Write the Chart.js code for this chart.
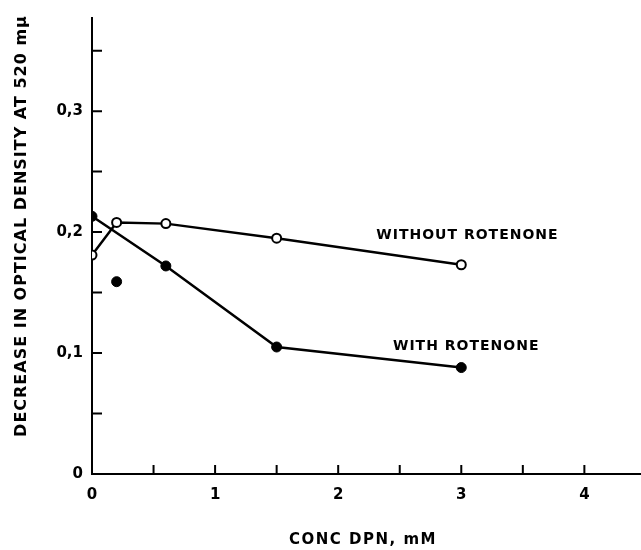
<!DOCTYPE html>
<html>
<head>
  <title>Decrease in optical density vs DPN concentration</title>
  <script src="https://cdn.jsdelivr.net/npm/chart.js"></script>
  <style>
    body {
      margin: 0;
      background: #ffffff;
    }
    .chart-box {
      position: relative;
      width: 641px;
      height: 550px;
    }
  </style>
</head>
<body>
  <div class="chart-box">
    <canvas id="dpnChart"></canvas>
  </div>

  <script>
    // values
    const withoutX = [0, 0.2, 0.6, 1.5, 3.0];
    const withoutY = [0.181, 0.208, 0.207, 0.195, 0.173];
    const withX = [0, 0.6, 1.5, 3.0];
    const withY = [0.213, 0.172, 0.105, 0.088];
    const strayX = [0.2];
    const strayY = [0.159];

    const curveLabels = ['WITHOUT ROTENONE', 'WITH ROTENONE'];
    const curveLabelX = [3.05, 3.04];
    const curveLabelY = [0.1975, 0.1057];

    const xTitle = 'CONC DPN, mM';
    const yTitle = 'DECREASE IN OPTICAL DENSITY AT 520 mμ';

    const toPoints = (xs, ys) => xs.map((x, i) => ({ x: x, y: ys[i] }));
    const FONT = 'DejaVu Sans';

    // inward tick marks, curve labels and axis titles
    const extrasPlugin = {
      id: 'extras',
      afterDraw(chart) {
        const ctx = chart.ctx;
        const xs = chart.scales.x;
        const ys = chart.scales.y;
        const area = chart.chartArea;
        ctx.save();
        ctx.strokeStyle = '#000';
        ctx.lineWidth = 2;
        ctx.beginPath();
        xs.ticks.forEach(t => {
          if (t.value === 0) return;
          const px = xs.getPixelForValue(t.value);
          ctx.moveTo(px, area.bottom);
          ctx.lineTo(px, area.bottom - 9);
        });
        ys.ticks.forEach(t => {
          if (t.value === 0) return;
          const py = ys.getPixelForValue(t.value);
          ctx.moveTo(area.left, py);
          ctx.lineTo(area.left + 10, py);
        });
        ctx.stroke();

        ctx.fillStyle = '#000';
        ctx.font = 'bold 14px ' + FONT;
        ctx.letterSpacing = '1px';
        ctx.textAlign = 'center';
        ctx.textBaseline = 'middle';
        curveLabels.forEach((txt, i) => {
          ctx.fillText(txt, xs.getPixelForValue(curveLabelX[i]), ys.getPixelForValue(curveLabelY[i]));
        });

        ctx.font = 'bold 15px ' + FONT;
        ctx.letterSpacing = '1.5px';
        ctx.fillText(xTitle, 363, 540);

        ctx.font = 'bold 16px ' + FONT;
        ctx.letterSpacing = '1px';
        ctx.translate(22, 226);
        ctx.rotate(-Math.PI / 2);
        ctx.fillText(yTitle, 0, 0);
        ctx.restore();
      }
    };

    const ctx = document.getElementById('dpnChart').getContext('2d');

    new Chart(ctx, {
      type: 'scatter',
      data: {
        datasets: [
          {
            label: 'Without rotenone',
            data: toPoints(withoutX, withoutY),
            showLine: true,
            borderColor: '#000',
            borderWidth: 2.5,
            pointRadius: 4.5,
            pointBorderWidth: 2,
            pointBackgroundColor: '#fff',
            pointBorderColor: '#000'
          },
          {
            label: 'With rotenone',
            data: toPoints(withX, withY),
            showLine: true,
            borderColor: '#000',
            borderWidth: 2.5,
            pointRadius: 5,
            pointBorderWidth: 1,
            pointBackgroundColor: '#000',
            pointBorderColor: '#000'
          },
          {
            label: 'With rotenone (single)',
            data: toPoints(strayX, strayY),
            showLine: false,
            pointRadius: 5,
            pointBorderWidth: 1,
            pointBackgroundColor: '#000',
            pointBorderColor: '#000'
          }
        ]
      },
      options: {
        responsive: true,
        maintainAspectRatio: false,
        animation: false,
        layout: {
          autoPadding: false,
          padding: { top: 14, right: 0, left: 0, bottom: 0 }
        },
        plugins: {
          legend: { display: false },
          tooltip: { enabled: false }
        },
        scales: {
          x: {
            type: 'linear',
            min: 0,
            max: 4.46,
            afterFit: s => { s.height = 76; s.paddingRight = 0; s.paddingLeft = 0; },
            grid: { display: true, drawOnChartArea: false, drawTicks: false },
            border: { display: true, color: '#000', width: 2 },
            ticks: {
              stepSize: 0.5,
              includeBounds: false,
              autoSkip: false,
              maxRotation: 0,
              padding: 12,
              color: '#000',
              font: { family: FONT, size: 15, weight: 'bold' },
              callback: v => (Math.abs(v - Math.round(v)) < 1e-6 ? String(Math.round(v)) : '')
            }
          },
          y: {
            type: 'linear',
            min: 0,
            max: 0.377,
            afterFit: s => { s.width = 92; },
            grid: { display: true, drawOnChartArea: false, drawTicks: false },
            border: { display: true, color: '#000', width: 2 },
            ticks: {
              stepSize: 0.05,
              includeBounds: false,
              autoSkip: false,
              padding: 9,
              color: '#000',
              font: { family: FONT, size: 15, weight: 'bold' },
              callback: v => {
                if (Math.abs(v * 10 - Math.round(v * 10)) > 1e-6) return '';
                return v === 0 ? '0' : v.toFixed(1).replace('.', ',');
              }
            }
          }
        }
      },
      plugins: [extrasPlugin]
    });
  </script>
</body>
</html>
